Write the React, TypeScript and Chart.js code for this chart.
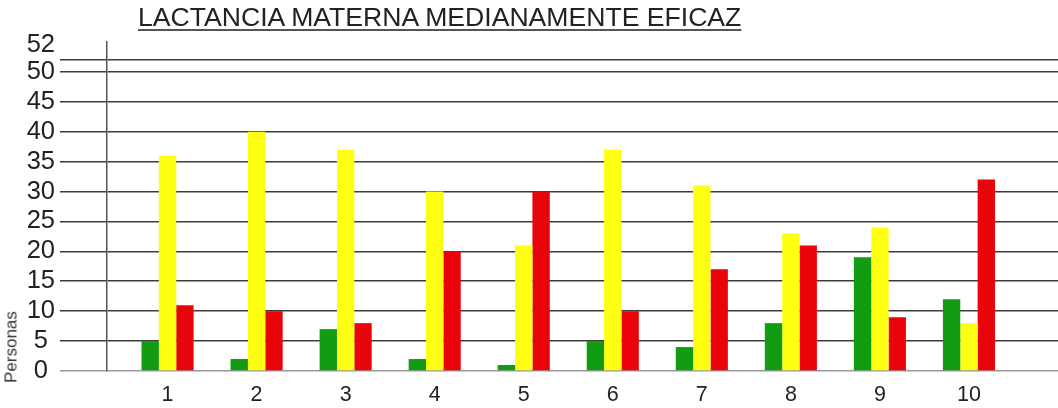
import React, { useEffect, useRef } from "react";
import { Chart, registerables } from "chart.js";

Chart.register(...registerables);

const chartTitle = "LACTANCIA MATERNA MEDIANAMENTE EFICAZ";
const yAxisTitle = "Personas";
const categories = [1, 2, 3, 4, 5, 6, 7, 8, 9, 10];
const greenValues = [5, 2, 7, 2, 1, 5, 4, 8, 19, 12];
const yellowValues = [36, 40, 37, 30, 21, 37, 31, 23, 24, 8];
const redValues = [11, 10, 8, 20, 30, 10, 17, 21, 9, 32];
const yTickValues = [0, 5, 10, 15, 20, 25, 30, 35, 40, 45, 50, 52];

const FONT = '"Liberation Sans", Arial, Helvetica, sans-serif';
const TOP_VALUE = 52;
const TOP_LABEL_SLOT = 54.5;

export default function App() {
  const canvasRef = useRef<HTMLCanvasElement | null>(null);

  useEffect(() => {
    const canvas = canvasRef.current;
    if (!canvas) return;
    const mk = (vals: number[]) => vals.map((v, i) => ({ x: categories[i], y: v }));
    const common = { borderWidth: 0, barPercentage: 1, categoryPercentage: 0.585 };
    const gridCol = (ctx: any) =>
      ctx.tick && ctx.tick.value === TOP_LABEL_SLOT
        ? "rgba(0,0,0,0)"
        : ctx.tick && ctx.tick.value === 0
        ? "#9a9a9a"
        : "#3c3c3c";
    const chart = new Chart(canvas, {
      type: "bar",
      data: {
        datasets: [
          { label: "Verde", data: mk(greenValues), backgroundColor: "#129c12", ...common },
          { label: "Amarillo", data: mk(yellowValues), backgroundColor: "#ffff14", ...common },
          { label: "Rojo", data: mk(redValues), backgroundColor: "#e8040a", ...common },
        ],
      },
      options: {
        responsive: false,
        animation: false,
        layout: { padding: { top: 42, left: 0, right: 0, bottom: 0 } },
        plugins: { legend: { display: false }, tooltip: { enabled: false }, title: { display: false } },
        scales: {
          x: {
            type: "linear",
            min: 0.32,
            max: 11.0,
            offset: false,
            grid: { display: false, offset: false },
            border: { display: false },
            afterBuildTicks: (scale: any) => {
              scale.ticks = categories.map((v) => ({ value: v }));
            },
            afterFit: (scale: any) => {
              scale.height = 37;
            },
            ticks: {
              autoSkip: false,
              maxRotation: 0,
              padding: 3,
              color: "#222",
              font: { family: FONT, size: 21.5 },
              callback: (value: any) => String(value),
            },
          },
          y: {
            type: "linear",
            min: 0,
            max: 55,
            afterBuildTicks: (scale: any) => {
              scale.ticks = [...yTickValues.map((v) => ({ value: v })), { value: TOP_LABEL_SLOT }];
            },
            afterFit: (scale: any) => {
              scale.width = 107;
            },
            grid: {
              drawTicks: true,
              tickLength: 47,
              lineWidth: 1.6,
              color: gridCol,
              tickColor: gridCol,
            },
            border: { display: true, color: "#555", width: 1.5 },
            ticks: {
              autoSkip: false,
              crossAlign: "center",
              padding: 5,
              color: "#222",
              font: { family: FONT, size: 25.5 },
              callback: (value: any) =>
                value === TOP_VALUE ? "" : value === TOP_LABEL_SLOT ? String(TOP_VALUE) : String(value),
            },
          },
        },
      },
    } as any);
    return () => chart.destroy();
  }, []);

  return (
    <div style={{ position: "absolute", left: 0, top: 0, width: 1058, height: 408, background: "#fff" }}>
      <canvas ref={canvasRef} width={1058} height={408} style={{ position: "absolute", left: 0, top: 0 }} />
      <div
        style={{
          position: "absolute",
          left: 138,
          top: 4,
          fontFamily: FONT,
          fontSize: 26.6,
          lineHeight: "27px",
          color: "#222",
          whiteSpace: "nowrap",
          textDecoration: "underline",
          textDecorationThickness: "2px",
          textUnderlineOffset: "3px",
          textDecorationColor: "#555",
        }}
      >
        {chartTitle}
      </div>
      <div
        style={{
          position: "absolute",
          left: 10.5,
          top: 347,
          transform: "translate(-50%, -50%) rotate(-90deg)",
          fontFamily: FONT,
          fontSize: 17,
          lineHeight: "17px",
          color: "#333",
          whiteSpace: "nowrap",
        }}
      >
        {yAxisTitle}
      </div>
    </div>
  );
}
